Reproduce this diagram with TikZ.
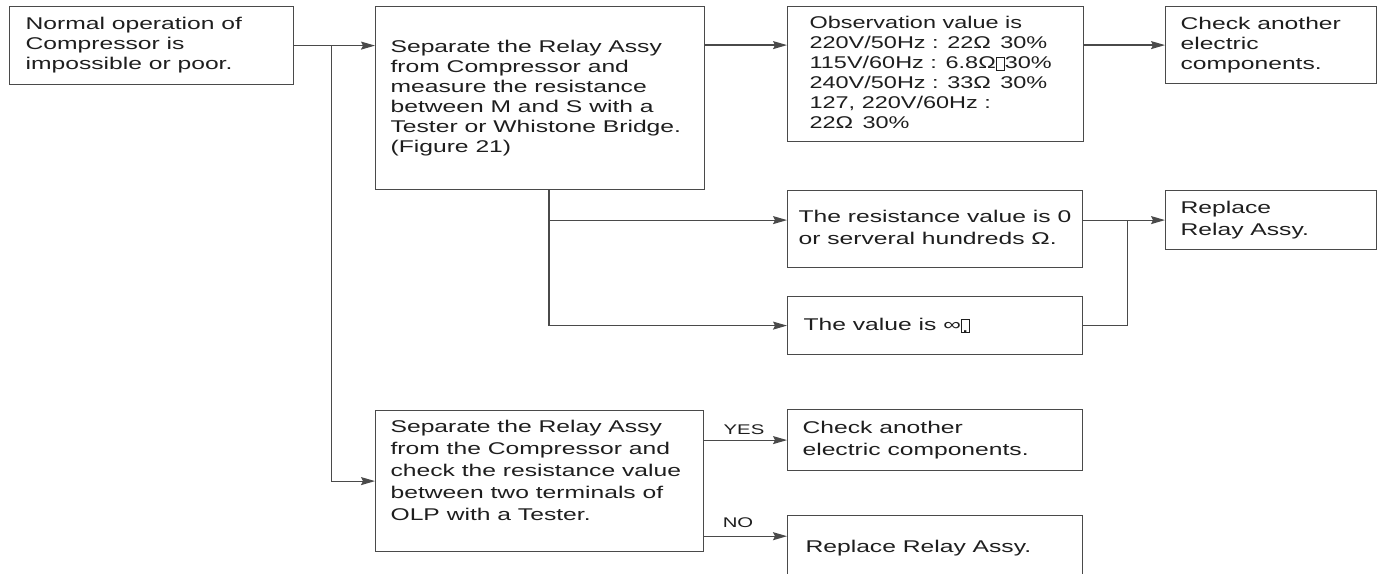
\documentclass[tikz,border=0pt]{standalone}
\usepackage{fontspec}
\setmainfont{Liberation Sans}
\newfontfamily\fa{Liberation Sans}[FakeStretch=1.45]
\newfontfamily\fd{Liberation Sans}[FakeStretch=1.38]
\usetikzlibrary{arrows.meta}
\definecolor{linec}{HTML}{4A4A4A}
\definecolor{textc}{HTML}{1E1E1E}
\newcommand\gbox[1]{{\fboxsep=0pt\fboxrule=0.6pt\raisebox{-1.5pt}{\fbox{\makebox[5.5pt]{\rule{0pt}{9.5pt}#1}}}}}
\newcommand\tl[2]{\makebox[#1][l]{\begin{tabular}{@{}l@{}}#2\end{tabular}}}
\begin{document}
\begin{tikzpicture}[x=0.75pt,y=-0.75pt,
  box/.style={draw=linec, line width=0.9pt, rectangle, anchor=north west,
    text=textc, inner ysep=0pt},
  ga/.style={font=\fa\fontsize{12.75}{15}\selectfont},
  gd/.style={font=\fd\fontsize{12.75}{15}\selectfont},
  gb/.style={font=\fa\fontsize{12.75}{16.5}\selectfont},
  arr/.style={draw=linec, line width=0.9pt, -{Stealth[length=10.5pt,width=6pt,inset=1.5pt]}},
  conn/.style={draw=linec, line width=0.9pt},
  lbl/.style={font=\fa\fontsize{10.5}{12}\selectfont, text=textc, inner sep=0pt}]
\useasboundingbox (0,0) rectangle (1377,574);
\clip (0,0) rectangle (1377,574);

\node[box, ga, minimum width=213pt, minimum height=58.5pt, inner xsep=12pt] (box1) at (9,6)
  {\tl{189pt}{Normal operation of\\Compressor is\\impossible or poor.}};
\node[box, ga, minimum width=246.75pt, minimum height=137.25pt, inner xsep=11.25pt] (box2) at (375,6)
  {\tl{224.25pt}{Separate the Relay Assy\\from Compressor and\\measure the resistance\\between M and S with a\\Tester or Whistone Bridge.\\(Figure 21)}};
\node[box, gd, minimum width=222pt, minimum height=101.25pt, inner xsep=16.5pt] (box3) at (787,6)
  {\tl{189pt}{Observation value is\\220V/50Hz : 22Ω\hspace{7pt}30\%\\115V/60Hz : 6.8Ω\gbox{}30\%\\240V/50Hz : 33Ω\hspace{7pt}30\%\\127, 220V/60Hz :\\22Ω\hspace{7pt}30\%}};
\node[box, ga, minimum width=158.25pt, minimum height=57.75pt, inner xsep=11.25pt] (box4) at (1165,6)
  {\tl{135.75pt}{Check another\\electric\\components.}};
\node[box, gb, minimum width=221.25pt, minimum height=57.75pt, inner xsep=8.25pt] (box5) at (787,190)
  {\tl{204.75pt}{The resistance value is 0\\or serveral hundreds Ω.}};
\node[box, gb, minimum width=221.25pt, minimum height=43.5pt, inner xsep=12pt] (box7) at (787,296)
  {\tl{197.25pt}{The value is ∞\gbox{.}}};
\node[box, gb, minimum width=158.25pt, minimum height=44.25pt, inner xsep=11.25pt] (box8) at (1165,190)
  {\tl{135.75pt}{Replace\\Relay Assy.}};
\node[box, gb, minimum width=246pt, minimum height=105.75pt, inner xsep=11.25pt] (box6) at (375,410)
  {\tl{223.5pt}{Separate the Relay Assy\\from the Compressor and\\check the resistance value\\between two terminals of\\OLP with a Tester.\\[-3pt] \mbox{}}};
\node[box, gb, minimum width=221.25pt, minimum height=45.75pt, inner xsep=11.25pt] (box9) at (787,409)
  {\tl{198.75pt}{Check another\\electric components.}};
\node[box, gb, minimum width=221.25pt, minimum height=48pt, inner xsep=13.5pt] (box10) at (787,515)
  {\tl{194.25pt}{Replace Relay Assy.}};

\path (box1.east) ++(37,0) coordinate (j1);
\path (box2.south west) ++(174,0) coordinate (j2);
\path (box7.east) ++(44,0) coordinate (j3);
\path (box6.south east) ++(0,-16) coordinate (n0);

\draw[arr] (box1.east) -- (box1.east -| box2.west);
\draw[arr] (j1) |- (box6.west);
\draw[arr] (box2.east |- box4.west) -- (box3.west |- box4.west);
\draw[arr] (box3.east |- box4.west) -- (box4.west);
\draw[arr] (j2) |- (box5.west |- box8.west);
\draw[arr] (j2) |- (box7.west);
\draw[arr] (box5.east |- box8.west) -- (box8.west);
\draw[conn] (box7.east) -- (j3) -- (j3 |- box8.west);
\draw[arr] (box6.east |- box9.west) -- (box9.west);
\draw[arr] (n0) -- (n0 -| box10.west);

\node[lbl] (yes) at (744,430) {YES};
\node[lbl] (no) at (738,523) {NO};
\end{tikzpicture}
\end{document}
